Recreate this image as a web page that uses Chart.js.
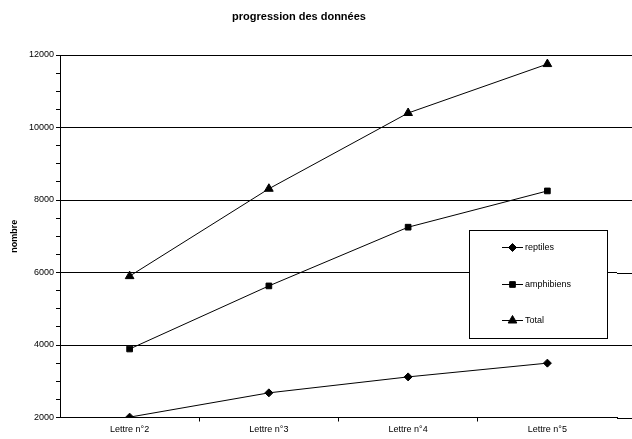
<!DOCTYPE html>
<html>
<head>
<meta charset="utf-8">
<script src="https://cdn.jsdelivr.net/npm/chart.js@4.4.1/dist/chart.umd.min.js"></script>
<style>
    html, body { margin: 0; padding: 0; background: #fff; }
    #wrap { width: 632px; height: 439px; }
</style>
</head>
<body>
<div id="wrap"><canvas id="chart"></canvas></div>
<script>
const categories = ['Lettre n°2', 'Lettre n°3', 'Lettre n°4', 'Lettre n°5']
const reptiles = [2010, 2680, 3120, 3500]
const amphibiens = [3890, 5630, 7250, 8250]
const total = [5900, 8310, 10400, 11750]

const FONT = 'Arial, "Liberation Sans", sans-serif'

// title is centered over the whole picture a bit left of the plot
const titlePlugin = {
    id: 'titleText',
    afterDraw(chart) {
        const ctx = chart.ctx
        ctx.save()
        ctx.font = `bold 11px ${FONT}`
        ctx.fillStyle = '#000'
        ctx.textAlign = 'center'
        ctx.textBaseline = 'middle'
        ctx.fillText('progression des données', 299, 17)
        ctx.restore()
    }
}

// gridlines run on to the right edge of the picture
const gridExtend = {
    id: 'gridExtend',
    beforeDatasetsDraw(chart) {
        const { ctx, chartArea, scales: { y } } = chart
        ctx.save()
        ctx.strokeStyle = '#000'
        ctx.lineWidth = 1
        y.ticks.forEach(tick => {
            if (tick.value % 2000 !== 0) return
            const py = Math.round(y.getPixelForValue(tick.value)) + 0.5
            ctx.beginPath()
            ctx.moveTo(chartArea.right, py)
            ctx.lineTo(chart.width, py)
            ctx.stroke()
        })
        ctx.restore()
    }
}

// boxed legend inside the plot, line + marker per series
const boxLegend = {
    id: 'boxLegend',
    afterDraw(chart) {
        const ctx = chart.ctx
        const box = { x: 469.5, y: 230.5, w: 138, h: 108 }
        const rows = [247, 284, 320]
        ctx.save()
        ctx.fillStyle = '#fff'
        ctx.fillRect(box.x, box.y, box.w, box.h)
        ctx.strokeStyle = '#000'
        ctx.lineWidth = 1
        ctx.strokeRect(box.x, box.y, box.w, box.h)
        chart.data.datasets.forEach((ds, i) => {
            const yy = rows[i] + 0.5
            ctx.strokeStyle = '#000'
            ctx.fillStyle = '#000'
            ctx.lineWidth = 1
            ctx.beginPath()
            ctx.moveTo(502, yy)
            ctx.lineTo(523, yy)
            ctx.stroke()
            Chart.helpers.drawPoint(ctx, {
                pointStyle: ds.pointStyle,
                radius: ds.pointRadius,
                borderWidth: 1
            }, 512.5, yy)
            ctx.font = `9px ${FONT}`
            ctx.textAlign = 'left'
            ctx.textBaseline = 'middle'
            ctx.fillText(ds.label, 525, yy)
        })
        ctx.restore()
    }
}

const series = (label, data, pointStyle, radius) => ({
    label,
    data,
    pointStyle,
    pointRadius: radius,
    pointHoverRadius: radius,
    borderColor: '#000',
    backgroundColor: '#000',
    pointBackgroundColor: '#000',
    pointBorderColor: '#000',
    pointBorderWidth: 1,
    borderWidth: 1,
    tension: 0
})

new Chart(document.getElementById('chart'), {
    type: 'line',
    data: {
        labels: categories,
        datasets: [
            series('reptiles', reptiles, 'rectRot', 4),
            series('amphibiens', amphibiens, 'rect', 4),
            series('Total', total, 'triangle', 5)
        ]
    },
    options: {
        responsive: true,
        maintainAspectRatio: false,
        animation: false,
        layout: { padding: { top: 55, right: 15, bottom: 0, left: 0 } },
        plugins: {
            legend: { display: false },
            title: { display: false },
            tooltip: { enabled: false }
        },
        scales: {
            x: {
                offset: true,
                grid: {
                    offset: true,
                    drawOnChartArea: false,
                    tickLength: 4,
                    tickColor: ctx => (ctx.type !== 'tick' || ctx.index === 0) ? 'rgba(0,0,0,0)' : '#000'
                },
                border: { color: '#000', width: 1 },
                ticks: {
                    color: '#000',
                    font: { family: FONT, size: 9 },
                    padding: 3,
                    maxRotation: 0
                },
                afterFit(scale) { scale.height = 21.5 }
            },
            y: {
                min: 2000,
                max: 12000,
                grid: {
                    color: ctx => ctx.tick && ctx.tick.value % 2000 === 0 ? '#000' : 'rgba(0,0,0,0)',
                    tickColor: '#000',
                    tickLength: 4,
                    lineWidth: 1
                },
                border: { color: '#000', width: 1 },
                ticks: {
                    stepSize: 500,
                    autoSkip: false,
                    color: '#000',
                    padding: 2,
                    font: { family: FONT, size: 9 },
                    callback: v => v % 2000 === 0 ? String(v) : ''
                },
                title: {
                    display: true,
                    text: 'nombre',
                    color: '#000',
                    font: { family: FONT, size: 9, weight: 'bold' },
                    padding: { top: 9, bottom: 0 }
                },
                afterFit(scale) { scale.width = 60 }
            }
        }
    },
    plugins: [gridExtend, boxLegend, titlePlugin]
})
</script>
</body>
</html>
